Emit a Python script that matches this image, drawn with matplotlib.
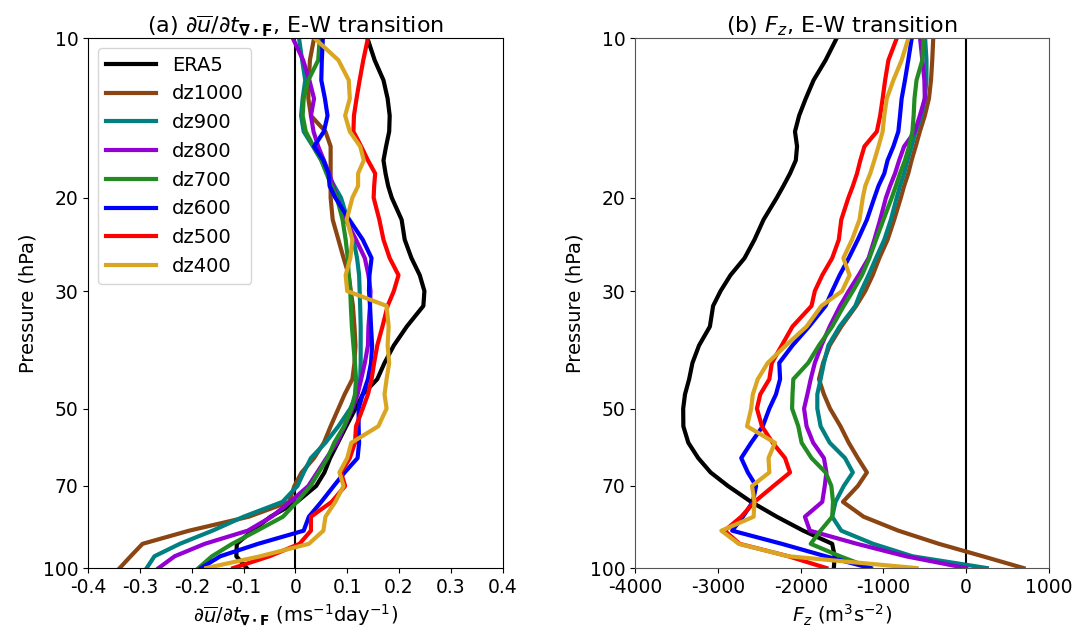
import numpy as np
import matplotlib
matplotlib.use("Agg")
from matplotlib import pyplot as plt
from matplotlib.ticker import FixedLocator, NullLocator, FixedFormatter

plt.rcParams['font.size'] = 13.5
plt.rcParams['axes.unicode_minus'] = False

# pressure levels (hPa)
lev = [10, 11, 12, 13, 14, 15, 16, 17, 18, 19, 20, 22, 24, 26, 28, 30, 32, 35, 38,
       41, 44, 47, 50, 54, 58, 62, 66, 70, 75, 80, 85, 90, 95, 100]

names = ['ERA5', 'dz1000', 'dz900', 'dz800', 'dz700', 'dz600', 'dz500', 'dz400']
colors = ['black', '#8B4513', '#008080', '#9400D3', '#228B22', 'blue', 'red', '#DAA520']

# (a) du/dt from EP flux divergence (m/s/day)
dudt_era5 = [0.139, 0.153, 0.170, 0.178, 0.182, 0.181, 0.175, 0.170, 0.174, 0.179, 0.186, 0.205,
             0.211, 0.224, 0.240, 0.249, 0.247, 0.215, 0.190, 0.172, 0.158, 0.130, 0.116, 0.098,
             0.082, 0.067, 0.056, 0.040, 0.003, -0.048, -0.083, -0.113, -0.114, -0.094]
dudt_dz1000 = [0.036, 0.028, 0.026, 0.025, 0.030, 0.058, 0.068, 0.068, 0.068, 0.068, 0.068, 0.072,
               0.083, 0.093, 0.103, 0.107, 0.111, 0.114, 0.116, 0.114, 0.110, 0.095, 0.083, 0.068,
               0.055, 0.036, 0.012, -0.002, -0.012, -0.090, -0.205, -0.295, -0.318, -0.339]
dudt_dz900 = [0.007, 0.013, 0.019, 0.014, 0.011, 0.016, 0.034, 0.050, 0.062, 0.075, 0.088, 0.101,
              0.112, 0.119, 0.123, 0.124, 0.125, 0.126, 0.126, 0.126, 0.125, 0.118, 0.106, 0.083,
              0.058, 0.030, 0.016, 0.004, -0.025, -0.100, -0.160, -0.223, -0.272, -0.287]
dudt_dz800 = [-0.005, 0.015, 0.027, 0.036, 0.030, 0.035, 0.044, 0.055, 0.065, 0.073, 0.080, 0.097,
              0.117, 0.134, 0.141, 0.145, 0.144, 0.141, 0.140, 0.134, 0.127, 0.120, 0.110, 0.095,
              0.080, 0.060, 0.042, 0.025, -0.010, -0.046, -0.092, -0.175, -0.233, -0.264]
dudt_dz700 = [0.047, 0.044, 0.025, 0.016, 0.014, 0.020, 0.035, 0.050, 0.060, 0.070, 0.080, 0.091,
              0.097, 0.101, 0.103, 0.106, 0.107, 0.109, 0.112, 0.115, 0.117, 0.115, 0.108, 0.094,
              0.075, 0.062, 0.045, 0.029, 0.003, -0.024, -0.074, -0.122, -0.161, -0.187]
dudt_dz600 = [0.053, 0.051, 0.050, 0.057, 0.062, 0.055, 0.036, 0.054, 0.064, 0.066, 0.077, 0.104,
              0.130, 0.147, 0.143, 0.142, 0.144, 0.146, 0.148, 0.146, 0.140, 0.130, 0.122, 0.122,
              0.123, 0.120, 0.095, 0.074, 0.050, 0.026, 0.016, -0.072, -0.145, -0.182]
dudt_dz500 = [0.140, 0.131, 0.124, 0.118, 0.113, 0.112, 0.127, 0.140, 0.154, 0.152, 0.151, 0.162,
              0.170, 0.182, 0.199, 0.190, 0.178, 0.168, 0.158, 0.152, 0.147, 0.140, 0.130, 0.117,
              0.115, 0.105, 0.088, 0.096, 0.070, 0.030, 0.030, 0.008, -0.050, -0.120]
dudt_dz400 = [0.037, 0.083, 0.103, 0.105, 0.096, 0.105, 0.125, 0.132, 0.121, 0.121, 0.110, 0.099,
              0.110, 0.106, 0.097, 0.100, 0.176, 0.180, 0.178, 0.181, 0.176, 0.172, 0.176, 0.160,
              0.108, 0.100, 0.085, 0.093, 0.077, 0.058, 0.054, 0.026, -0.068, -0.172]

# (b) vertical EP flux Fz (m3 s-2)
fz_era5 = [-1566, -1700, -1845, -1940, -2020, -2070, -2045, -2060, -2130, -2210, -2290, -2450,
           -2560, -2680, -2850, -2970, -3060, -3099, -3230, -3310, -3350, -3400, -3422, -3420,
           -3360, -3240, -3090, -2880, -2600, -2290, -1970, -1620, -1590, -1600]
fz_dz1000 = [-398, -410, -425, -450, -500, -560, -610, -660, -700, -750, -790, -870,
             -950, -1050, -1130, -1220, -1330, -1510, -1650, -1730, -1780, -1720, -1646, -1520,
             -1420, -1310, -1200, -1310, -1490, -1240, -820, -330, 200, 694]
fz_dz900 = [-496, -480, -480, -500, -540, -610, -660, -710, -750, -800, -840, -910,
            -990, -1090, -1180, -1270, -1340, -1530, -1666, -1720, -1760, -1800, -1800, -1760,
            -1650, -1465, -1370, -1480, -1580, -1620, -1510, -1125, -650, 250]
fz_dz800 = [-557, -530, -505, -500, -560, -620, -750, -810, -860, -920, -970, -1040,
            -1110, -1180, -1300, -1420, -1525, -1650, -1750, -1830, -1880, -1920, -1960, -1930,
            -1850, -1720, -1690, -1710, -1740, -1950, -1890, -1320, -730, 0]
fz_dz700 = [-516, -530, -600, -625, -635, -650, -690, -740, -800, -850, -900, -1000,
            -1090, -1170, -1260, -1370, -1480, -1620, -1780, -1910, -2090, -2100, -2105, -2030,
            -1990, -1870, -1700, -1630, -1610, -1620, -1760, -1880, -1525, -1150]
fz_dz600 = [-658, -700, -740, -780, -800, -820, -880, -950, -990, -1060, -1110, -1200,
            -1310, -1420, -1530, -1620, -1700, -1900, -2100, -2260, -2250, -2300, -2380, -2460,
            -2600, -2720, -2640, -2540, -2580, -2700, -2830, -2230, -1700, -1160]
fz_dz500 = [-839, -940, -980, -1010, -1040, -1080, -1230, -1280, -1320, -1370, -1424, -1510,
            -1540, -1620, -1740, -1830, -1870, -2100, -2230, -2350, -2380, -2490, -2530, -2470,
            -2340, -2190, -2130, -2330, -2560, -2720, -2920, -2740, -2150, -1690]
fz_dz400 = [-698, -780, -880, -960, -990, -1010, -1060, -1110, -1160, -1220, -1250, -1290,
            -1380, -1485, -1410, -1500, -1750, -1930, -2180, -2400, -2520, -2580, -2600, -2650,
            -2312, -2390, -2380, -2590, -2560, -2570, -2960, -2750, -2150, -600]

dudt = [dudt_era5, dudt_dz1000, dudt_dz900, dudt_dz800, dudt_dz700, dudt_dz600, dudt_dz500, dudt_dz400]
fz = [fz_era5, fz_dz1000, fz_dz900, fz_dz800, fz_dz700, fz_dz600, fz_dz500, fz_dz400]

fig = plt.figure(figsize=(10.88, 6.27), dpi=100)
ax1 = fig.add_axes([0.081, 0.094, 0.381, 0.845])
ax2 = fig.add_axes([0.584, 0.094, 0.380, 0.845])

yticks = [10, 20, 30, 50, 70, 100]

ax1.axvline(0, color='black', lw=1.5, zorder=1)
for vals, nm, c in zip(dudt, names, colors):
    ax1.plot(vals, lev, color=c, lw=3, label=nm, zorder=2)
ax1.set_xlim(-0.4, 0.4)
ax1.set_xticks([-0.4, -0.3, -0.2, -0.1, 0, 0.1, 0.2, 0.3, 0.4])
ax1.set_xticklabels(['-0.4', '-0.3', '-0.2', '-0.1', '0', '0.1', '0.2', '0.3', '0.4'])
ax1.set_title(r'(a) $\partial\overline{u}/\partial t_{\mathbf{\nabla\cdot F}}$, E-W transition',
              fontsize=16, pad=4)
ax1.set_xlabel(r'$\partial\overline{u}/\partial t_{\mathbf{\nabla\cdot F}}$ (ms$^{-1}$day$^{-1}$)',
               fontsize=14)
ax1.legend(loc='upper left', fontsize=14, handlelength=2.6, borderaxespad=0.5)

ax2.axvline(0, color='black', lw=1.5, zorder=1)
for vals, nm, c in zip(fz, names, colors):
    ax2.plot(vals, lev, color=c, lw=3, label=nm, zorder=2)
ax2.set_xlim(-4000, 1000)
ax2.set_xticks([-4000, -3000, -2000, -1000, 0, 1000])
ax2.set_xticklabels(['-4000', '-3000', '-2000', '-1000', '0', '1000'])
ax2.set_title(r'(b) $F_z$, E-W transition', fontsize=16, pad=4)
ax2.set_xlabel(r'$F_z$ (m$^3$s$^{-2}$)', fontsize=14)
for sp in ax2.spines.values():
    sp.set_color('#555555')

for ax in (ax1, ax2):
    ax.set_yscale('log')
    ax.set_ylim(100, 10)
    ax.yaxis.set_major_locator(FixedLocator(yticks))
    ax.yaxis.set_major_formatter(FixedFormatter([str(t) for t in yticks]))
    ax.yaxis.set_minor_locator(NullLocator())
    ax.set_ylabel('Pressure (hPa)', fontsize=14)

fig.savefig('out.png', dpi=100)
